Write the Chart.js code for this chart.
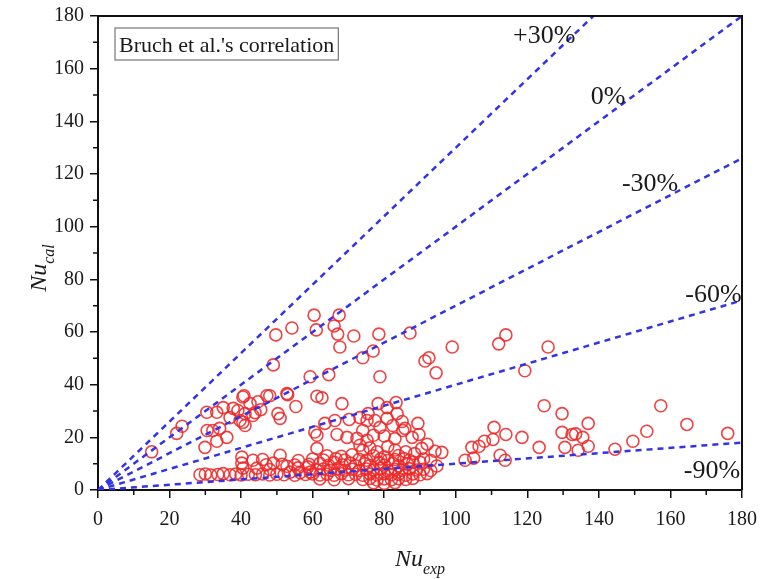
<!DOCTYPE html>
<html>
<head>
<meta charset="utf-8">
<script src="https://cdn.jsdelivr.net/npm/chart.js@4.4.0/dist/chart.umd.min.js"></script>
<style>
  html, body { margin: 0; padding: 0; background: #fff; }
  #wrap { width: 761px; height: 579px; }
</style>
</head>
<body>
<div id="wrap"><canvas id="chart" width="761" height="579"></canvas></div>
<script>
const nuExp = [
  15, 22, 23.5,
  29.9, 30.5, 32.1, 33.2, 34, 36, 36.9, 39.7, 41.1, 40.5, 30.4, 33.2, 35, 37.8, 39.1, 41.1, 43.3, 43.9,
  40.8, 42.5, 44.7, 47.2, 40.5, 50.3, 50.9, 53, 55.3, 48, 52.8, 45.5,
  49, 49.7, 54.2, 60.4, 67.4, 61, 66, 67, 71.5, 78.5, 87.2, 67.6, 74, 76.9, 91.4, 92.5, 99, 94.5,
  59.3, 64.5, 78.8,
  62.6, 68.2, 61.2, 63.4, 66.2, 70.2, 73.2, 75.2, 61.2, 60.6, 66.8, 69.6, 72.4, 75.2, 61.2, 73.2, 74,
  78.3, 80.8, 75.5, 83.3, 77.4, 80.8, 83.6, 85, 89.4, 87.8, 85.8, 89.7, 74, 78.8, 82.4, 85.2,
  76, 78, 81, 83, 86, 88.5, 90.5, 92, 94.2, 96.1, 80, 83, 77,
  112, 114, 125.8, 119.3, 124.7, 129.7, 157.3, 164.6, 176, 153.4, 149.5, 144.5, 137, 135.5, 133.5,
  137, 134.2, 130.5, 129.7, 132.5, 123.3, 118.5, 114, 110.7, 110.4, 108, 106.5, 104.5, 105, 102.6, 112.4, 113.8,
  40.2, 43.3, 50.9, 64, 68, 71, 77, 80, 84,
  40.2, 49, 47, 51.5, 55, 59, 62, 64.5, 66, 68.3, 70.5, 72, 74.5, 76, 78.5, 80, 82.4, 84, 86.5, 88, 90, 94.7,
  46, 56, 60, 63, 66.5, 69, 73, 75, 79, 81, 83, 85.5, 87, 91, 93,
  40.5, 44.4, 52.8, 55.9, 58.7, 61, 63, 65, 67, 69, 71, 73, 75, 77, 79, 81, 83, 85, 87, 89, 91, 93, 48,
  28.5, 30, 31.5, 33.5, 35, 36.9, 38.5, 40, 42, 44, 46, 48, 50, 52, 53.7, 56.5, 59.3, 55, 58, 60,
  62, 64, 66, 68, 70, 72, 74, 76, 78, 80, 82, 84, 86, 88, 90, 92,
  62, 66, 70, 74, 76, 78, 80, 82, 84, 86, 88,
  77, 80, 83
];
const nuCal = [
  14.5, 21.5, 24.2,
  16.2, 22.6, 22.6, 18.5, 23.4, 20, 27.5, 26.4, 24.5, 25.7, 29.5, 29.5, 31.3, 31, 30.2, 29, 28.3, 29.4,
  35.8, 32.8, 33.5, 35.8, 35.3, 29, 27.2, 36.2, 31.7, 35.8, 36.6, 30.5,
  47.5, 58.9, 61.5, 66.4, 66.4, 60.8, 62.3, 59.2, 58.5, 59.2, 59.6, 54.3, 50.2, 52.8, 49, 50.2, 54.3, 44.5,
  43, 43.8, 43,
  35, 32.8, 35.6, 25.3, 26.4, 26.8, 27.5, 26.4, 20.8, 22, 21.1, 20, 19.6, 18.9, 15.8, 17, 15.1,
  32.8, 31.3, 29, 33.2, 26.4, 27.2, 29, 26, 25.3, 20, 23.4, 21.1, 22.6, 23.8, 24.5, 22.6,
  16, 14.5, 16.5, 15.2, 14.5, 13.8, 15.8, 17.4, 14.7, 14.3, 20.5, 19.5, 20.8,
  55.5, 58.9, 54.3, 45.3, 32, 29, 32, 24.9, 21.5, 22.3, 18.5, 15.5, 25.3, 20, 21.3,
  16.6, 15.1, 16.2, 21.9, 21.1, 16.2, 20, 21.1, 23.8, 19.2, 18.5, 16.6, 16.2, 12.1, 11.3, 13.2, 11.3,
  12.5, 11.3, 13.2, 13, 12.8, 13.4, 13, 12.6, 13.1,
  10.2, 10.2, 9.6, 9.8, 9.5, 9.8, 10.1, 9.4, 10.5, 9.6, 10.2, 9.2, 10, 9.3, 10.4, 9.5, 10.1, 9.2, 9.8, 10.6, 10.6, 9.1,
  11.6, 11.2, 11.8, 11.4, 11.9, 11.4, 11.7, 11.3, 11.8, 11.2, 11.6, 11.9, 11.3, 11.8, 11.2,
  8.3, 8.3, 9, 8.4, 8.8, 7.6, 8, 7.4, 8.1, 7.5, 7.9, 7.3, 8, 7.6, 8.2, 7.4, 7.9, 7.5, 8.1, 7.6, 7.9, 7.4, 7.8,
  5.8, 6.1, 5.7, 5.9, 6.2, 5.8, 6.1, 5.7, 6, 5.8, 6.1, 5.7, 6, 5.8, 6.8, 6.6, 6.8, 5.6, 5.9, 6.1,
  5.7, 6, 5.6, 6.2, 5.8, 6, 5.6, 6.1, 5.7, 6.2, 5.8, 6, 5.6, 6.1, 5.8, 6.2,
  4.2, 3.9, 4.3, 4, 4.4, 3.8, 4.2, 3.9, 4.3, 4, 4.4,
  2.7, 2.5, 2.8
];

// deviation lines: Nu_cal = k * Nu_exp
const lineNames = ["+30%", "0%", "-30%", "-60%", "-90%"];
const lineSlopes = [1.3, 1.0, 0.7, 0.4, 0.1];
const lineLabelX = [124.7, 142.6, 154.3, 172.0, 171.6];
const lineLabelY = [172.4, 149.3, 116.2, 74.1, 7.2];

const axisTicks = [0, 20, 40, 60, 80, 100, 120, 140, 160, 180];
const minorTicks = [10, 30, 50, 70, 90, 110, 130, 150, 170];
const boxText = "Bruch et al.'s correlation";

const serif = '"Liberation Serif", "DejaVu Serif", serif';

const points = nuExp.map((v, i) => ({ x: v, y: nuCal[i] }));

const lineSets = lineSlopes.map((k, i) => ({
  type: "line",
  label: lineNames[i],
  data: [{ x: 0, y: 0 }, { x: 180, y: 180 * k }],
  borderColor: "rgb(50,50,232)",
  borderWidth: 2.5,
  borderDash: [6, 5],
  pointRadius: 0,
  fill: false,
  order: 0
}));

const overlay = {
  id: "overlay",
  afterDraw(chart) {
    const { ctx, chartArea: a, scales: { x, y } } = chart;
    ctx.save();
    // top / right frame
    ctx.strokeStyle = "#111";
    ctx.lineWidth = 2;
    ctx.beginPath();
    ctx.moveTo(a.left, a.top);
    ctx.lineTo(a.right, a.top);
    ctx.lineTo(a.right, a.bottom);
    ctx.stroke();

    // minor ticks
    ctx.lineWidth = 1.5;
    ctx.beginPath();
    minorTicks.forEach(v => {
      const px = x.getPixelForValue(v);
      ctx.moveTo(px, a.bottom);
      ctx.lineTo(px, a.bottom + 5);
      const py = y.getPixelForValue(v);
      ctx.moveTo(a.left, py);
      ctx.lineTo(a.left - 5, py);
    });
    ctx.stroke();

    // line labels
    ctx.fillStyle = "#1a1a1a";
    ctx.font = "26px " + serif;
    ctx.textAlign = "center";
    ctx.textBaseline = "middle";
    lineNames.forEach((t, i) => {
      ctx.fillText(t, x.getPixelForValue(lineLabelX[i]), y.getPixelForValue(lineLabelY[i]));
    });

    // legend-like box
    ctx.font = "22px " + serif;
    ctx.textAlign = "left";
    ctx.textBaseline = "alphabetic";
    const bx = a.left + 17, by = a.top + 12;
    const tw = ctx.measureText(boxText).width;
    ctx.strokeStyle = "#777";
    ctx.lineWidth = 1.2;
    ctx.strokeRect(bx, by, tw + 8, 32);
    ctx.fillText(boxText, bx + 4, by + 24);

    // axis titles with subscripts
    const drawTitle = (main, sub) => {
      ctx.font = "italic 24px " + serif;
      const w1 = ctx.measureText(main).width;
      ctx.font = "italic 16px " + serif;
      const w2 = ctx.measureText(sub).width;
      const x0 = -(w1 + w2) / 2;
      ctx.font = "italic 24px " + serif;
      ctx.fillText(main, x0, 0);
      ctx.font = "italic 16px " + serif;
      ctx.fillText(sub, x0 + w1, 8);
    };
    ctx.save();
    ctx.translate((a.left + a.right) / 2, 566);
    drawTitle("Nu", "exp");
    ctx.restore();
    ctx.save();
    ctx.translate(46, 268);
    ctx.rotate(-Math.PI / 2);
    drawTitle("Nu", "cal");
    ctx.restore();

    ctx.restore();
  }
};

const axisCommon = {
  type: "linear",
  min: 0,
  max: 180,
  afterBuildTicks: s => { s.ticks = axisTicks.map(v => ({ value: v })); },
  border: { display: true, color: "#111", width: 2 },
  grid: { drawOnChartArea: false, drawTicks: true, tickLength: 8, color: "#111", lineWidth: 1.5 },
  title: { display: false }
};

new Chart(document.getElementById("chart"), {
  type: "scatter",
  data: {
    datasets: [
      ...lineSets,
      {
        label: "Nu",
        data: points,
        pointStyle: "circle",
        pointRadius: 6,
        borderWidth: 1.6,
        borderColor: "rgba(238,40,40,0.88)",
        backgroundColor: "rgba(0,0,0,0)",
        order: 1
      }
    ]
  },
  options: {
    responsive: false,
    animation: false,
    layout: { padding: { top: 16, right: 19, left: 0, bottom: 0 } },
    plugins: { legend: { display: false }, tooltip: { enabled: false } },
    scales: {
      x: {
        ...axisCommon,
        position: "bottom",
        ticks: { color: "#1a1a1a", font: { family: serif, size: 20 }, padding: 10, maxRotation: 0 },
        afterFit: s => { s.height = 89; s.paddingLeft = 0; s.paddingRight = 0; }
      },
      y: {
        ...axisCommon,
        position: "left",
        ticks: { color: "#1a1a1a", font: { family: serif, size: 20 }, padding: 6 },
        afterFit: s => { s.width = 98; s.paddingTop = 0; s.paddingBottom = 0; }
      }
    }
  },
  plugins: [overlay]
});
</script>
</body>
</html>
